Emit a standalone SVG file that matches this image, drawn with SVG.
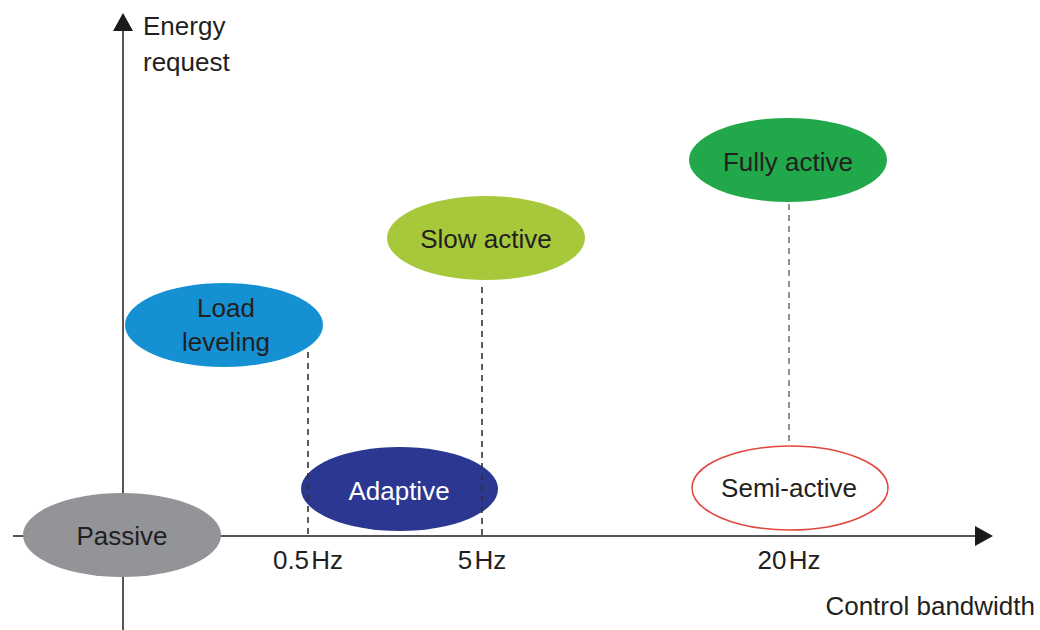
<svg xmlns="http://www.w3.org/2000/svg" width="1040" height="630" viewBox="0 0 1040 630">
<style>
text{font-family:"Liberation Sans",Arial,Helvetica,sans-serif;font-size:26px;fill:#231f20}
.c{text-anchor:middle}
.w{fill:#ffffff}
.axis{stroke:#555555;stroke-width:2;fill:none}
.dash{stroke:#333333;stroke-width:1.6;stroke-dasharray:6 5;fill:none}
.dashg{stroke:#777777;stroke-width:1.6;stroke-dasharray:6 5;fill:none}
</style>
<rect width="1040" height="630" fill="#ffffff"/>
<g id="axes">
<line class="axis" x1="123" y1="630" x2="123" y2="28"/>
<polygon points="123,13 113,31 133,31" fill="#1a1a1a"/>
<line class="axis" x1="13" y1="536" x2="976" y2="536"/>
<polygon points="993,536 975,526 975,546" fill="#1a1a1a"/>
<text x="143" y="35">Energy</text>
<text x="143" y="71">request</text>
<text x="1035" y="615" text-anchor="end">Control bandwidth</text>
<text class="c" x="308" y="569" word-spacing="-5">0.5 Hz</text>
<text class="c" x="482" y="569" word-spacing="-5">5 Hz</text>
<text class="c" x="789" y="569" word-spacing="-5">20 Hz</text>
</g>
<g id="passive">
<ellipse cx="122" cy="535" rx="99" ry="42" fill="#929497"/>
<text class="c" x="122" y="545">Passive</text>
</g>
<g id="load-leveling">
<ellipse cx="224" cy="325" rx="99" ry="42" fill="#1590d2"/>
<text class="c" x="226" y="317">Load</text>
<text class="c" x="226" y="351">leveling</text>
</g>
<g id="adaptive">
<ellipse cx="399.5" cy="489" rx="98.5" ry="42" fill="#2b3791"/>
<text class="c w" x="399" y="500">Adaptive</text>
</g>
<g id="slow-active">
<ellipse cx="486" cy="238" rx="99" ry="42" fill="#a8c83b"/>
<text class="c" x="486" y="248">Slow active</text>
</g>
<g id="fully-active">
<ellipse cx="788" cy="160" rx="99" ry="42" fill="#20a84b"/>
<text class="c" x="788" y="171">Fully active</text>
</g>
<g id="semi-active">
<ellipse cx="790" cy="488" rx="98" ry="42" fill="#ffffff" stroke="#e2473c" stroke-width="1.5"/>
<text class="c" x="789" y="497">Semi-active</text>
</g>
<g id="connectors">
<line class="dash" x1="308" y1="352" x2="308" y2="536"/>
<line class="dash" x1="482" y1="287" x2="482" y2="536"/>
<line class="dashg" x1="789" y1="204" x2="789" y2="443"/>
</g>
</svg>
